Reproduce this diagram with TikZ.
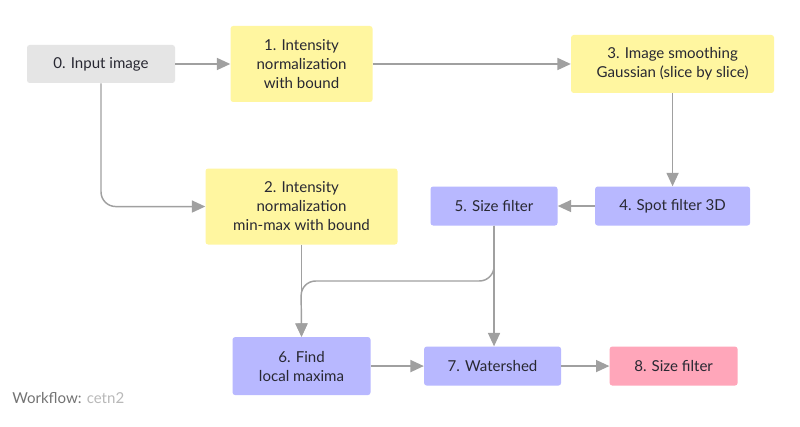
\documentclass[tikz,border=0pt]{standalone}
\usepackage{fontspec}
\setmainfont{Lato}
\usetikzlibrary{arrows.meta, positioning}
\definecolor{my_gray}{RGB}{229, 229, 229}
\definecolor{my_yellow}{RGB}{255, 246, 160}
\definecolor{my_blue}{RGB}{184, 184, 255}
\definecolor{my_pink}{RGB}{255, 166, 186}
\definecolor{my_line}{RGB}{160, 160, 160}
\definecolor{my_text}{RGB}{40, 40, 50}
\tikzset {
  stage/.style = {rectangle, rounded corners=2pt, align=center, text=my_text, inner sep=2pt, font=\fontsize{11.3}{14.25}\selectfont},
  line/.style = {-{Triangle[length=10pt, width=9pt]}, line width=1.1pt, color=my_line},
  note/.style = {anchor=west, inner sep=0pt, font=\fontsize{11.3}{12}\selectfont}
}

\begin{document}
\begin{tikzpicture}[x=0.75pt, y=-0.75pt]

    \fill[white] (0,0) rectangle (800,427);

    \node[stage, fill=my_gray, name=input, minimum width=111pt, minimum height=28.5pt] (input) at (101,64) {0. Input image};
    \node[stage, fill=my_yellow, name=norm, minimum width=106.5pt, minimum height=57pt, right=41.25pt of input] (norm) {1. Intensity\\normalization\\with bound};
    \node[stage, fill=my_yellow, name=smooth, minimum width=152.25pt, minimum height=43.5pt, right=148.5pt of norm] (smooth) {3. Image smoothing\\Gaussian (slice by slice)};
    \node[stage, fill=my_yellow, name=normmm, minimum width=144pt, minimum height=57pt, below=49.5pt of norm] (normmm) {2. Intensity\\normalization\\min-max with bound};
    \node[stage, fill=my_blue, name=spot, minimum width=116.25pt, minimum height=29.25pt, below=69.75pt of smooth] (spot) {4. Spot filter 3D};
    \node[stage, fill=my_blue, name=size, minimum width=95.25pt, minimum height=29.25pt, left=27.75pt of spot] (size) {5. Size filter};
    \node[stage, fill=my_blue, name=maxima, minimum width=103.5pt, minimum height=43.5pt, below=69pt of normmm] (maxima) {6. Find\\local maxima};
    \node[stage, fill=my_blue, name=watershed, minimum width=102.75pt, minimum height=29.25pt, right=39.75pt of maxima] (watershed) {7. Watershed};
    \node[stage, fill=my_pink, name=sizeb, minimum width=96pt, minimum height=29.25pt, right=36pt of watershed] (sizeb) {8. Size filter};

    \coordinate (join) at (301,281);

    \draw[line] (input) -- (norm);
    \draw[line] (norm) -- (smooth);
    \draw[line] (smooth) -- (spot);
    \draw[line] (spot) -- (size);
    \draw[line, rounded corners=11pt] (input.south) |- (normmm.west);
    \draw[line] (normmm) -- (maxima);
    \draw[line, rounded corners=11pt] (size.south) |- (join) -- (maxima.north);
    \draw[line] (size.south) -- (size.south |- watershed.north);
    \draw[line] (maxima) -- (watershed);
    \draw[line] (watershed) -- (sizeb);

    \node[note, name=flow] (flow) at (12,398) {\textcolor{gray!110}{Workflow:} \textcolor{gray!55}{cetn2}};

\end{tikzpicture}
\end{document}
